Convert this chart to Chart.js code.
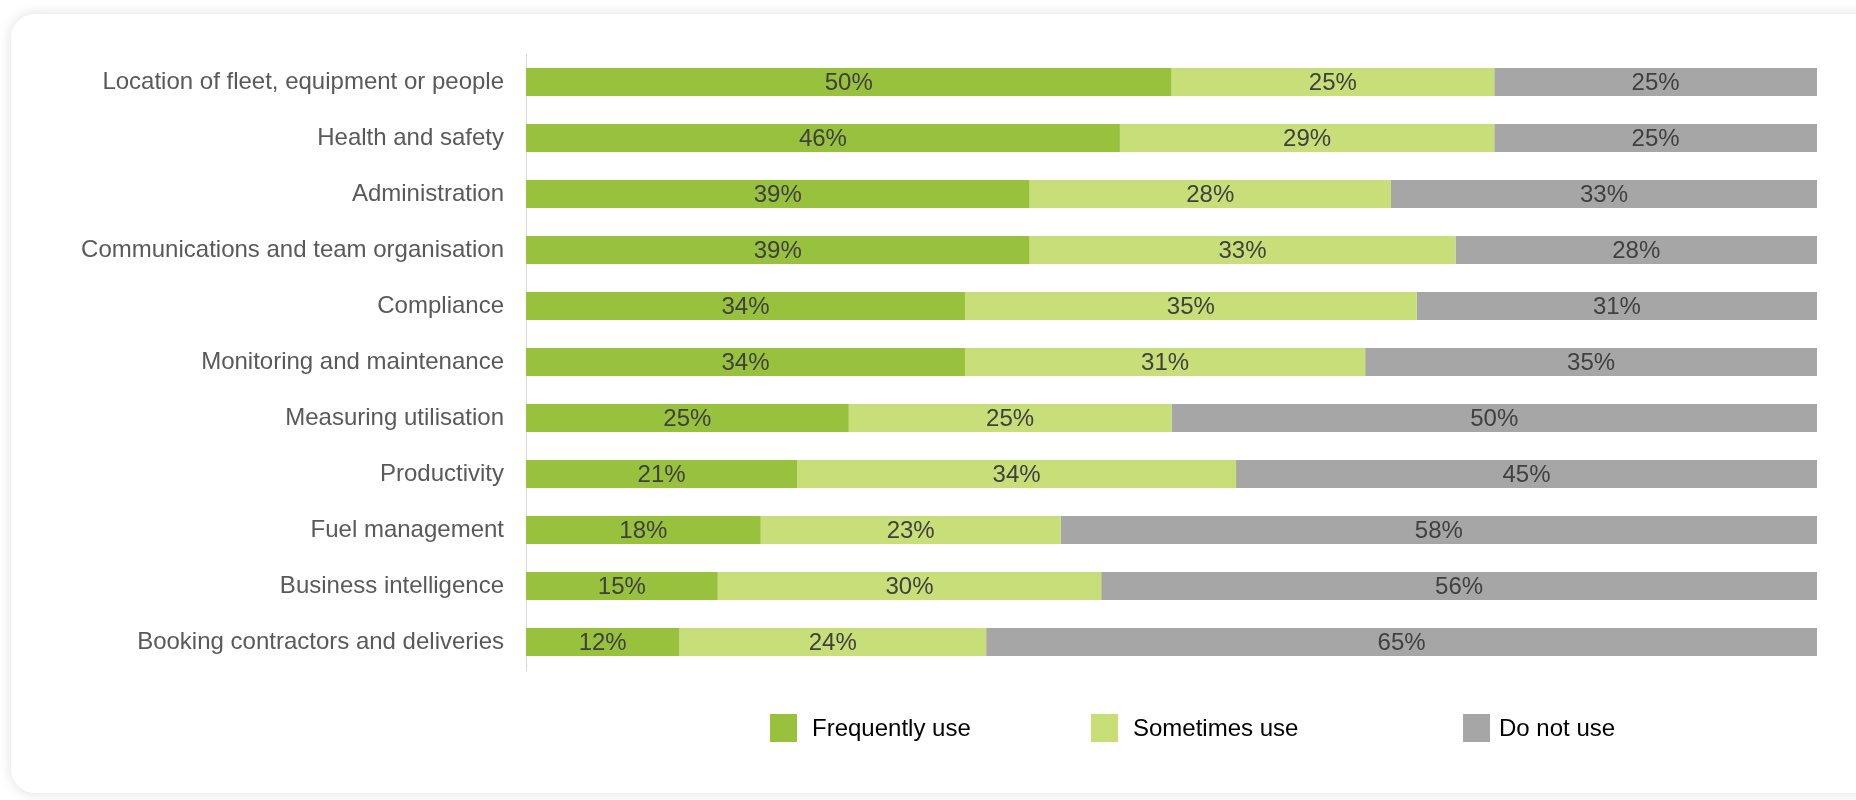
<!DOCTYPE html>
<html>
<head>
<meta charset="utf-8">
<script src="https://cdn.jsdelivr.net/npm/chart.js@4"></script>
<style>
  html, body { margin: 0; padding: 0; background: #ffffff; }
  body { width: 1856px; height: 800px; position: relative; overflow: hidden; font-family: "Liberation Sans", Arial, sans-serif; }
  .card {
    position: absolute; left: 11px; top: 14px; width: 1880px; height: 779px;
    background: #ffffff; border-radius: 24px;
    box-shadow: 0 0 14px rgba(0, 0, 0, 0.13);
  }
  #wrap { position: absolute; left: 0; top: 0; width: 1856px; height: 800px; }
  .legend-item { position: absolute; top: 714px; height: 28px; display: flex; align-items: center; }
  .legend-box { width: 27px; height: 28px; }
  .legend-text { font-size: 24px; color: #000000; line-height: 28px; }
</style>
</head>
<body>
<div class="card"></div>
<div id="wrap"><canvas id="bar-chart" width="1856" height="800"></canvas></div>
<div id="legend"></div>
<script>
const categories = [
    'Location of fleet, equipment or people',
    'Health and safety',
    'Administration',
    'Communications and team organisation',
    'Compliance',
    'Monitoring and maintenance',
    'Measuring utilisation',
    'Productivity',
    'Fuel management',
    'Business intelligence',
    'Booking contractors and deliveries'
];
const seriesNames = ['Frequently use', 'Sometimes use', 'Do not use'];
const frequentlyUse = [50, 46, 39, 39, 34, 34, 25, 21, 18, 15, 12];
const sometimesUse = [25, 29, 28, 33, 35, 31, 25, 34, 23, 30, 24];
const doNotUse = [25, 25, 33, 28, 31, 35, 50, 45, 58, 56, 65];

const colors = ['#98c13d', '#c8de78', '#a6a6a6'];
const legendLeft = [770, 1091, 1463];
const legendGap = [15, 15, 9];

// 100% stacked: every row is scaled to its own total
const raw = [frequentlyUse, sometimesUse, doNotUse];
const totals = categories.map((c, i) => raw[0][i] + raw[1][i] + raw[2][i]);
function share(arr) {
    return arr.map((v, i) => v / totals[i] * 100);
}

const datasets = raw.map((arr, k) => ({
    label: seriesNames[k],
    data: share(arr),
    rawValues: arr,
    backgroundColor: colors[k],
    borderWidth: 0,
    barPercentage: 1.0,
    categoryPercentage: 0.5
}));

// draws the value text in the middle of each segment
const segmentLabels = {
    id: 'segmentLabels',
    afterDatasetsDraw(chart) {
        const ctx = chart.ctx;
        ctx.save();
        ctx.font = '24px "Liberation Sans", Arial, sans-serif';
        ctx.fillStyle = '#404040';
        ctx.textAlign = 'center';
        ctx.textBaseline = 'middle';
        chart.data.datasets.forEach((ds, k) => {
            const meta = chart.getDatasetMeta(k);
            meta.data.forEach((bar, i) => {
                const x = (bar.x + bar.base) / 2;
                ctx.fillText(ds.rawValues[i] + '%', x, bar.y + 1);
            });
        });
        ctx.restore();
    }
};

const config = {
    type: 'bar',
    data: { labels: categories, datasets: datasets },
    options: {
        indexAxis: 'y',
        responsive: false,
        animation: false,
        layout: { padding: { left: 0, right: 39, top: 54, bottom: 130 } },
        plugins: {
            legend: { display: false },
            tooltip: { enabled: false }
        },
        scales: {
            x: {
                stacked: true,
                min: 0,
                max: 100,
                display: false
            },
            y: {
                stacked: true,
                grid: { display: false, drawTicks: false },
                border: { display: true, color: '#d9d9d9', width: 1 },
                ticks: {
                    color: '#595959',
                    padding: 22,
                    font: { family: '"Liberation Sans", Arial, sans-serif', size: 24 }
                },
                afterFit: function (scale) { scale.width = 526; }
            }
        }
    },
    plugins: [segmentLabels]
};

let chart = new Chart('bar-chart', config);

// legend
const legend = document.getElementById('legend');
seriesNames.forEach((name, k) => {
    const item = document.createElement('div');
    item.className = 'legend-item';
    item.style.left = legendLeft[k] + 'px';
    item.innerHTML = '<div class="legend-box" style="background:' + colors[k] + ';margin-right:' + legendGap[k] + 'px"></div><span class="legend-text">' + name + '</span>';
    legend.appendChild(item);
});
</script>
</body>
</html>
